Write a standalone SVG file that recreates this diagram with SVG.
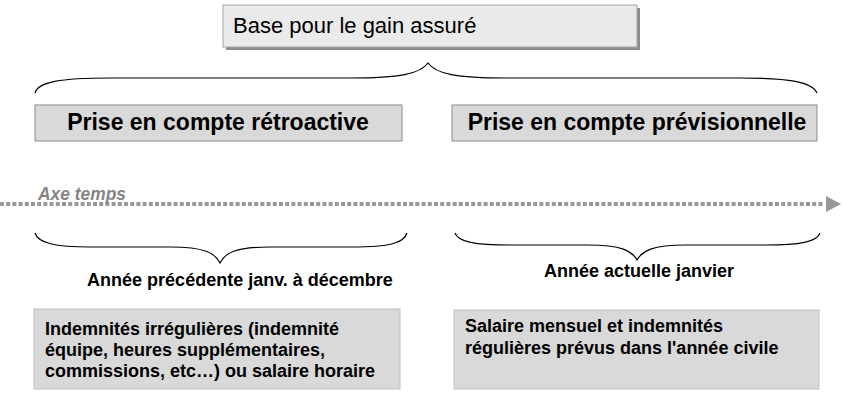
<svg xmlns="http://www.w3.org/2000/svg" width="842" height="400" viewBox="0 0 842 400">
<defs>
<style>
.t{font-family:"Liberation Sans",Arial,sans-serif;fill:#000}
.b{font-weight:bold}
.brace{fill:none;stroke:#000;stroke-width:1.2}
.hdr{fill:#d9d9d9;stroke:#8c8c8c;stroke-width:1}
.note{fill:#d9d9d9;stroke:#bfbfbf;stroke-width:1}
</style>
</defs>
<rect width="842" height="400" fill="#fff"/>
<g id="base">
<rect x="226" y="8" width="414" height="42" fill="#8c8c8c"/>
<rect x="223" y="5" width="414" height="42" fill="#eaeaea" stroke="#a6a6a6"/>
<text class="t" x="233" y="33" font-size="22">Base pour le gain assuré</text>
</g>
<g id="connectors">
<path class="brace" d="M35,93 C38,82 60,78 110,78 L350,78 C400,78 420,74 428,63 C436,74 456,78 506,78 L740,78 C790,78 812,82 817,93"/>
<path class="brace" d="M35,233 C38,243 55,247 90,247 L170,247 C205,247 215,253 220,263 C225,253 235,247 270,247 L352,247 C390,247 404,243 407,233"/>
<path class="brace" d="M455,233 C458,242 475,245 510,245 L588,245 C622,245 632,251 637,260 C642,251 652,245 686,245 L765,245 C800,245 817,242 820,233"/>
<line x1="0" y1="204" x2="824" y2="204" stroke="#999" stroke-width="4" stroke-dasharray="4 2.2"/>
<polygon points="826,196 841,204 826,212" fill="#999"/>
<text class="t b" x="38" y="200" font-size="18" font-style="italic" style="fill:#858585" textLength="88" lengthAdjust="spacingAndGlyphs">Axe temps</text>
</g>
<g id="retro">
<rect class="hdr" x="35" y="105" width="367" height="36"/>
<text class="t b" x="218" y="130" font-size="23" text-anchor="middle">Prise en compte rétroactive</text>
</g>
<g id="previ">
<rect class="hdr" x="452" y="105" width="365" height="36"/>
<text class="t b" x="637" y="130" font-size="23" text-anchor="middle">Prise en compte prévisionnelle</text>
</g>
<g id="label-prev">
<text class="t b" x="240" y="286" font-size="18" text-anchor="middle">Année précédente janv. à décembre</text>
</g>
<g id="label-curr">
<text class="t b" x="639" y="277" font-size="18" text-anchor="middle">Année actuelle janvier</text>
</g>
<g id="irreg">
<rect class="note" x="34" y="309" width="366" height="80"/>
<text class="t b" font-size="18"><tspan x="45" y="335">Indemnités irrégulières (indemnité</tspan><tspan x="45" y="356">équipe, heures supplémentaires,</tspan><tspan x="45" y="377">commissions, etc…) ou salaire horaire</tspan></text>
</g>
<g id="reg">
<rect class="note" x="454" y="310" width="365" height="79"/>
<text class="t b" font-size="18"><tspan x="465" y="332">Salaire mensuel et indemnités</tspan><tspan x="465" y="354">régulières prévus dans l'année civile</tspan></text>
</g>
</svg>
